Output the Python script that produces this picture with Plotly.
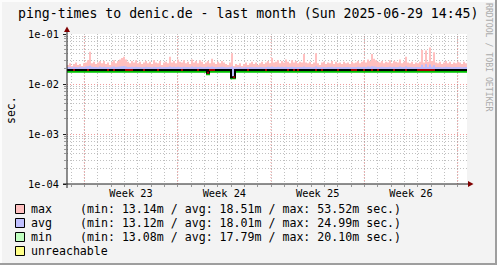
import pandas as pd
import plotly.graph_objects as go

# ---------------- data ----------------
period_start = "2025-05-30 16:45"
period_end = "2025-06-29 16:45"

# ping max per sample (ms)
max_ms = [
    24, 26, 23, 25, 27, 24, 25, 23, 26, 27, 30, 44, 26, 28, 25, 27, 29, 26, 29, 25,
    27, 24, 28, 30, 26, 29, 31, 33, 35, 31, 28, 26, 29, 27, 30, 26, 28, 25, 27, 29,
    26, 28, 25, 30, 27, 26, 29, 24, 27, 28, 26, 35, 27, 29, 26, 31, 28, 27, 30, 26,
    28, 25, 31, 27, 29, 26, 30, 28, 25, 27, 29, 26, 32, 27, 25, 28, 26, 29, 27, 25,
    24, 27, 41, 23, 25, 24, 26, 23, 25, 27, 24, 26, 28, 25, 27, 24, 26, 28, 25, 27,
    29, 26, 33, 27, 28, 30, 26, 29, 27, 31, 28, 26, 30, 27, 29, 26, 28, 27, 40, 27,
    26, 28, 25, 27, 41, 26, 24, 27, 28, 25, 27, 26, 29, 25, 28, 26, 27, 25, 28, 26,
    27, 25, 28, 26, 27, 29, 26, 28, 30, 27, 31, 29, 40, 32, 30, 28, 27, 29, 26, 28,
    27, 30, 26, 29, 28, 27, 31, 26, 28, 35, 27, 26, 28, 25, 27, 26, 28, 48, 27, 47,
    28, 53.52, 29, 43, 27, 26, 28, 25, 27, 29, 26, 28, 25, 27, 26, 28, 27, 25, 28, 26,
]

# ping avg per sample (ms)
avg_ms = [
    21.8, 22.0, 21.6, 22.1, 21.9, 21.7, 22.2, 21.8, 22.0, 22.4, 22.6, 23.3, 22.1, 21.9, 22.0, 21.7, 22.3, 21.9, 22.1, 21.8,
    22.0, 21.7, 22.2, 22.4, 21.9, 22.1, 22.3, 22.6, 22.8, 22.4, 22.0, 21.8, 22.1, 21.9, 22.2, 21.8, 22.0, 21.7, 21.9, 22.1,
    21.8, 22.0, 21.7, 22.2, 21.9, 21.8, 22.1, 21.6, 21.9, 22.0, 21.8, 22.5, 21.9, 22.1, 21.8, 22.2, 22.0, 21.9, 22.1, 21.8,
    22.0, 21.7, 22.3, 21.9, 22.1, 21.8, 22.2, 22.0, 21.7, 21.9, 22.1, 21.8, 22.4, 21.9, 21.7, 22.0, 21.8, 22.1, 21.9, 21.7,
    21.6, 21.9, 22.4, 21.5, 21.7, 21.6, 21.8, 21.5, 21.7, 21.9, 21.6, 21.8, 22.0, 21.7, 21.9, 21.6, 21.8, 22.0, 21.7, 21.9,
    22.1, 21.8, 22.3, 21.9, 22.0, 22.2, 21.8, 22.1, 21.9, 22.2, 22.0, 21.8, 22.1, 21.9, 22.0, 21.8, 22.0, 21.9, 22.5, 21.9,
    21.8, 22.0, 21.7, 21.9, 22.6, 21.8, 21.6, 21.9, 22.0, 21.7, 21.9, 21.8, 22.1, 21.7, 22.0, 21.8, 21.9, 21.7, 22.0, 21.8,
    21.9, 21.7, 22.0, 21.8, 21.9, 22.1, 21.8, 22.0, 22.2, 21.9, 22.3, 22.1, 22.7, 22.4, 22.2, 22.0, 21.9, 22.1, 21.8, 22.0,
    21.9, 22.2, 21.8, 22.1, 22.0, 21.9, 22.3, 21.8, 22.0, 22.6, 21.9, 21.8, 22.0, 21.7, 21.9, 21.8, 22.0, 24.2, 21.9, 24.99,
    22.0, 24.6, 22.1, 23.8, 21.9, 21.8, 22.0, 21.7, 21.9, 22.1, 21.8, 22.0, 21.7, 21.9, 21.8, 22.0, 21.9, 21.7, 22.0, 21.8,
]

# ping min per sample (ms) - green line
min_ms = [
    17.6, 17.6, 17.6, 17.6, 17.6, 17.6, 17.6, 17.6, 17.6, 17.6, 17.6, 17.6, 17.6, 17.6, 17.6, 17.6, 17.6, 17.6, 17.6, 17.6,
    17.6, 17.6, 17.6, 17.6, 17.6, 17.6, 17.6, 17.6, 17.6, 17.6, 17.6, 17.6, 17.6, 17.6, 17.6, 17.6, 17.6, 17.6, 17.6, 17.6,
    17.6, 17.6, 17.6, 17.6, 17.6, 17.6, 17.6, 17.6, 17.6, 17.6, 17.6, 17.6, 17.6, 17.6, 17.6, 17.6, 17.6, 17.6, 17.6, 17.6,
    17.6, 17.6, 17.6, 17.6, 17.6, 17.6, 17.6, 17.6, 17.6, 17.6, 15.6, 17.6, 17.6, 17.6, 17.6, 17.6, 17.6, 17.6, 17.6, 17.6,
    17.6, 17.6, 13.1, 13.1, 17.6, 17.6, 17.6, 17.6, 17.6, 17.6, 17.6, 17.6, 17.6, 17.6, 17.6, 17.6, 17.6, 17.6, 17.6, 17.6,
    17.6, 17.6, 17.6, 17.6, 17.6, 17.6, 17.6, 17.6, 17.6, 17.6, 17.6, 17.6, 17.6, 17.6, 17.6, 17.6, 17.6, 17.6, 17.6, 17.6,
    17.6, 17.6, 17.6, 17.6, 17.6, 17.6, 17.6, 17.6, 17.6, 17.6, 17.6, 17.6, 17.6, 17.6, 17.6, 17.6, 17.6, 17.6, 17.6, 17.6,
    17.6, 17.6, 17.6, 17.6, 17.6, 17.6, 17.6, 17.6, 17.6, 17.6, 17.6, 17.6, 17.6, 17.6, 17.6, 17.6, 17.6, 17.6, 17.6, 17.6,
    17.6, 17.6, 17.6, 17.6, 17.6, 17.6, 17.6, 17.6, 17.6, 17.6, 17.6, 17.6, 17.6, 17.6, 17.6, 17.6, 17.6, 17.6, 17.6, 17.6,
    17.6, 17.6, 17.6, 17.6, 17.6, 17.6, 17.6, 17.6, 17.6, 17.6, 17.6, 17.6, 17.6, 17.6, 17.6, 17.6, 17.6, 17.6, 17.6, 17.6,
]

# black reference line per sample (ms)
line_ms = [
    19.0, 19.0, 19.0, 19.0, 19.0, 19.0, 19.0, 19.0, 19.0, 19.0, 19.0, 19.0, 19.0, 19.0, 19.0, 19.0, 19.0, 19.0, 19.0, 19.0,
    19.0, 19.0, 19.0, 19.0, 19.0, 19.0, 19.0, 19.0, 19.0, 19.0, 19.0, 19.0, 19.0, 19.0, 19.0, 19.0, 19.0, 19.0, 19.0, 19.0,
    19.0, 19.0, 19.0, 19.0, 19.0, 19.0, 19.0, 19.0, 19.0, 19.0, 19.0, 19.0, 19.0, 19.0, 19.0, 19.0, 19.0, 19.0, 19.0, 19.0,
    19.0, 19.0, 19.0, 19.0, 19.0, 19.0, 19.0, 19.0, 19.0, 19.0, 16.8, 19.0, 19.0, 19.0, 19.0, 19.0, 19.0, 19.0, 19.0, 19.0,
    19.0, 19.0, 13.6, 13.6, 19.0, 19.0, 19.0, 19.0, 19.0, 19.0, 19.0, 19.0, 19.0, 19.0, 19.0, 19.0, 19.0, 19.0, 19.0, 19.0,
    19.0, 19.0, 19.0, 19.0, 19.0, 19.0, 19.0, 19.0, 19.0, 19.0, 19.0, 19.0, 19.0, 19.0, 19.0, 19.0, 19.0, 19.0, 19.0, 19.0,
    19.0, 19.0, 19.0, 19.0, 19.0, 19.0, 19.0, 19.0, 19.0, 19.0, 19.0, 19.0, 19.0, 19.0, 19.0, 19.0, 19.0, 19.0, 19.0, 19.0,
    19.0, 19.0, 19.0, 19.0, 19.0, 19.0, 19.0, 19.0, 19.0, 19.0, 19.0, 19.0, 19.0, 19.0, 19.0, 19.0, 19.0, 19.0, 19.0, 19.0,
    19.0, 19.0, 19.0, 19.0, 19.0, 19.0, 19.0, 19.0, 19.0, 19.0, 19.0, 19.0, 19.0, 19.0, 19.0, 19.0, 19.0, 19.0, 19.0, 19.0,
    19.0, 19.0, 19.0, 19.0, 19.0, 19.0, 19.0, 19.0, 19.0, 19.0, 19.0, 19.0, 19.0, 19.0, 19.0, 19.0, 19.0, 19.0, 19.0, 19.0,
]

# packet loss per sample (%)
loss_pct = [
    0, 0, 0, 10, 0, 0, 0, 0, 0, 0, 10, 0, 0, 0, 0, 0, 0, 0, 0, 0,
    10, 0, 0, 10, 0, 0, 0, 0, 0, 20, 10, 10, 20, 0, 0, 0, 0, 0, 10, 0,
    0, 0, 0, 0, 0, 10, 0, 0, 0, 0, 0, 0, 0, 0, 0, 0, 0, 10, 0, 0,
    0, 0, 0, 0, 0, 10, 0, 0, 0, 0, 20, 10, 10, 10, 0, 0, 0, 0, 0, 0,
    0, 0, 0, 30, 0, 0, 0, 0, 0, 0, 10, 0, 0, 0, 0, 0, 0, 0, 0, 10,
    0, 0, 0, 0, 0, 0, 0, 0, 0, 0, 10, 0, 0, 10, 0, 10, 0, 0, 0, 0,
    0, 0, 0, 0, 10, 0, 0, 10, 0, 0, 0, 0, 0, 0, 0, 10, 0, 0, 0, 0,
    0, 0, 10, 10, 10, 0, 0, 0, 10, 0, 0, 0, 10, 0, 0, 10, 0, 0, 0, 0,
    0, 0, 0, 10, 0, 0, 0, 0, 0, 10, 0, 0, 0, 0, 0, 10, 10, 10, 10, 20,
    10, 20, 10, 10, 0, 0, 0, 0, 0, 0, 0, 0, 0, 0, 0, 0, 0, 0, 0, 0,
]

week_labels = ["Week 23", "Week 24", "Week 25", "Week 26"]
week_starts = ["2025-06-01", "2025-06-08", "2025-06-15", "2025-06-22", "2025-06-29"]
y_tick_vals = [1e-4, 1e-3, 1e-2, 1e-1]
y_tick_text = ["1e-04", "1e-03", "1e-02", "1e-01"]

legend_names = ["max", "avg", "min", "unreachable"]
legend_stats = [
    "(min: 13.14m / avg: 18.51m / max: 53.52m sec.)",
    "(min: 13.12m / avg: 18.01m / max: 24.99m sec.)",
    "(min: 13.08m / avg: 17.79m / max: 20.10m sec.)",
    "",
]
legend_colors = ["#FFC0C0", "#C0C0FF", "#C0FFC0", "#FFFF88"]
title_text = "ping-times to denic.de - last month (Sun 2025-06-29 14:45)"
y_title = "sec."
watermark = "RRDTOOL / TOBI OETIKER"

# ---------------- layout geometry ----------------
FW, FH = 497, 265
L, T, PW, PH = 67, 34, 400, 150
R = FW - L - PW
B = FH - T - PH
MONO = "DejaVu Sans Mono"


def px(x):
    return (x - L) / PW


def py(y):
    return (T + PH - y) / PH


n = len(max_ms)
t = pd.date_range(period_start, period_end, periods=n + 1)


def ext(v):
    return [a / 1000.0 for a in v] + [v[-1] / 1000.0]


fig = go.Figure()
common = dict(mode="lines", hoverinfo="skip", showlegend=False)
fig.add_trace(go.Scatter(x=t, y=ext(line_ms), line=dict(width=0, shape="hv"), **common))
fig.add_trace(go.Scatter(x=t, y=ext(max_ms), line=dict(width=0, shape="hv"),
                         fill="tonexty", fillcolor="#FFC0C0", **common))
fig.add_trace(go.Scatter(x=t, y=ext(line_ms), line=dict(width=0, shape="hv"), **common))
fig.add_trace(go.Scatter(x=t, y=ext(avg_ms), line=dict(width=0, shape="hv"),
                         fill="tonexty", fillcolor="#BCBCFF", **common))
fig.add_trace(go.Scatter(x=t, y=ext(min_ms), line=dict(width=2, shape="hv", color="#00C000"), **common))
fig.add_trace(go.Scatter(x=t, y=ext(line_ms), line=dict(width=2, shape="hv", color="#000000"), **common))

lx, ly = [], []
for i, v in enumerate(loss_pct):
    if v > 0:
        lx += [t[i], t[i + 1], None]
        ly += [line_ms[i] / 1000.0, line_ms[i] / 1000.0, None]
fig.add_trace(go.Scatter(x=lx, y=ly, line=dict(width=2, color="#990000"), **common))

ws = pd.to_datetime(week_starts)
week_mid = [ws[i] + (ws[i + 1] - ws[i]) / 2 for i in range(len(week_labels))]

minor_y = [k * 10.0 ** e for e in range(-4, -1) for k in range(2, 10)]

GRID = "rgba(150,150,150,0.6)"
MGRID = "rgba(230,90,90,0.6)"

fig.update_layout(
    width=FW, height=FH,
    margin=dict(l=L, r=R, t=T, b=B, pad=0),
    paper_bgcolor="#F3F3F3", plot_bgcolor="#FFFFFF",
    showlegend=False,
    font=dict(family=MONO, size=10, color="#000000"),
)
fig.update_xaxes(
    type="date", range=[period_start, period_end],
    tickmode="array", tickvals=week_mid, ticktext=week_labels,
    showgrid=False, zeroline=False, showline=False, ticks="",
    tickfont=dict(family=MONO, size=10.3), ticklabelstandoff=2,
    minor=dict(tickmode="linear", tick0="2025-05-31", dtick=86400000,
               showgrid=True, gridcolor=GRID, griddash="1px,2px", gridwidth=1,
               ticks="outside", ticklen=2, tickcolor="#999999"),
)
fig.update_yaxes(
    type="log", range=[-4, -1],
    tickmode="array", tickvals=y_tick_vals, ticktext=y_tick_text,
    showgrid=True, gridcolor=MGRID, griddash="1px,2px", gridwidth=1,
    zeroline=False, showline=False, ticks="outside", ticklen=3, tickcolor="#1F1F1F",
    tickfont=dict(family=MONO, size=10.3), ticklabelstandoff=2,
    minor=dict(tickvals=minor_y, showgrid=True, gridcolor=GRID, griddash="1px,2px",
               gridwidth=1, ticks="outside", ticklen=2, tickcolor="#999999"),
)

shapes = []
# weekly major grid
for d in ws:
    shapes.append(dict(type="line", xref="x", yref="paper", x0=d, x1=d, y0=0, y1=1,
                       line=dict(color=MGRID, width=1, dash="1px,2px"), layer="below"))
# axes
AX = "#1F1F1F"
shapes.append(dict(type="line", xref="paper", yref="paper", x0=px(63), x1=px(470),
                   y0=py(184), y1=py(184), line=dict(color=AX, width=1)))
shapes.append(dict(type="line", xref="paper", yref="paper", x0=px(67), x1=px(67),
                   y0=py(188), y1=py(30), line=dict(color=AX, width=1)))
# arrows
ARROW = "#800000"
shapes.append(dict(type="path", xref="paper", yref="paper",
                   path=f"M {px(468)},{py(181)} L {px(473.5)},{py(184)} L {px(468)},{py(187)} Z",
                   fillcolor=ARROW, line=dict(color=ARROW, width=0)))
shapes.append(dict(type="path", xref="paper", yref="paper",
                   path=f"M {px(64)},{py(32)} L {px(67)},{py(26.5)} L {px(70)},{py(32)} Z",
                   fillcolor=ARROW, line=dict(color=ARROW, width=0)))
# frame shading
shapes.append(dict(type="rect", xref="paper", yref="paper", x0=px(0), x1=px(FW), y0=py(0), y1=py(2),
                   fillcolor="#FCFCFC", line=dict(width=0)))
shapes.append(dict(type="rect", xref="paper", yref="paper", x0=px(0), x1=px(2), y0=py(0), y1=py(FH),
                   fillcolor="#FCFCFC", line=dict(width=0)))
shapes.append(dict(type="rect", xref="paper", yref="paper", x0=px(FW - 2), x1=px(FW), y0=py(0), y1=py(FH),
                   fillcolor="#9E9E9E", line=dict(width=0)))
shapes.append(dict(type="rect", xref="paper", yref="paper", x0=px(0), x1=px(FW), y0=py(FH - 2), y1=py(FH),
                   fillcolor="#9E9E9E", line=dict(width=0)))
# legend squares
for i, c in enumerate(legend_colors):
    cy = 209 + 14 * i
    shapes.append(dict(type="rect", xref="paper", yref="paper", x0=px(15.5), x1=px(24.5),
                       y0=py(cy + 4.5), y1=py(cy - 4.5), fillcolor=c, line=dict(color="#000000", width=1)))

ann = []
ann.append(dict(text=title_text, x=px(248), y=py(13.5), xref="paper", yref="paper",
                xanchor="center", yanchor="middle", showarrow=False,
                font=dict(family=MONO, size=13.2, color="#000000")))
ann.append(dict(text=y_title, x=px(11), y=py(110), xref="paper", yref="paper", textangle=-90,
                xanchor="center", yanchor="middle", showarrow=False,
                font=dict(family=MONO, size=11.5, color="#000000")))
ann.append(dict(text=watermark, x=px(489), y=py(57), xref="paper", yref="paper", textangle=90,
                xanchor="center", yanchor="middle", showarrow=False,
                font=dict(family=MONO, size=8.2, color="#ABABAB")))
for i, (nm, st) in enumerate(zip(legend_names, legend_stats)):
    cy = 209 + 14 * i
    ann.append(dict(text=nm, x=px(29), y=py(cy), xref="paper", yref="paper",
                    xanchor="left", yanchor="middle", showarrow=False,
                    font=dict(family=MONO, size=11.6, color="#000000")))
    if st:
        ann.append(dict(text=st, x=px(77.8), y=py(cy), xref="paper", yref="paper",
                        xanchor="left", yanchor="middle", showarrow=False,
                        font=dict(family=MONO, size=11.6, color="#000000")))

fig.update_layout(shapes=shapes, annotations=ann)
fig.write_html("out.html")
